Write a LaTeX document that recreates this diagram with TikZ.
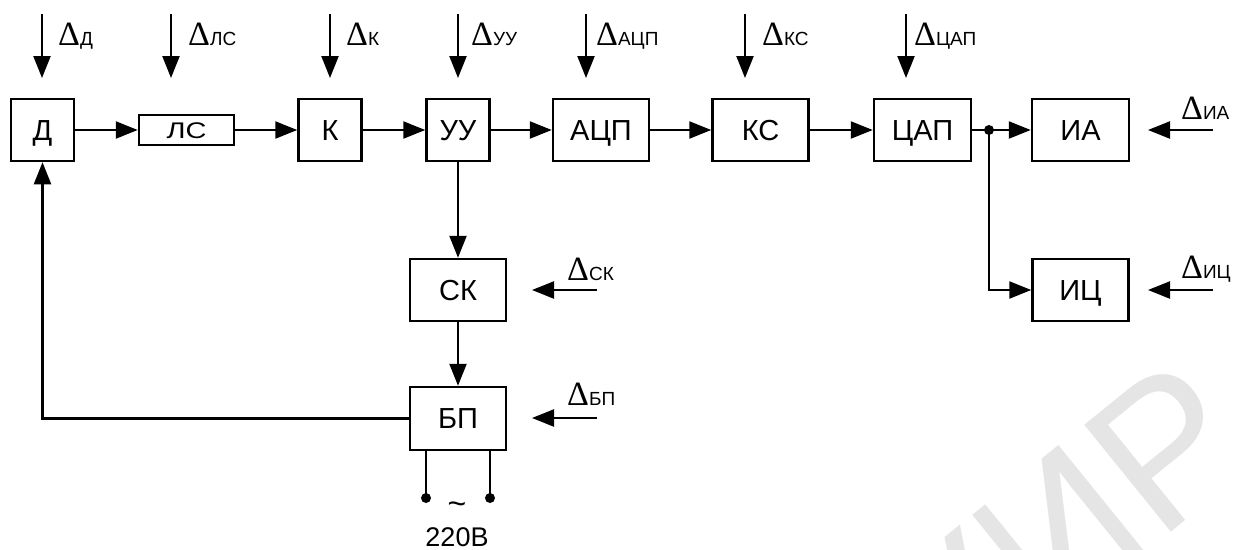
\documentclass[tikz,border=0pt]{standalone}
\usepackage{fontspec}
\setmainfont{Liberation Sans}
\newfontfamily\deltafont{Liberation Serif}
\usetikzlibrary{arrows.meta}

% error symbol with a subscript
\newcommand\dsub[1]{{\deltafont\fontsize{34}{34}\selectfont Δ}{\fontsize{19}{19}\selectfont #1}}

\begin{document}
\begin{tikzpicture}[x=1pt,y=-1pt,
  blk/.style={draw, line width=2.5pt, minimum width=#1, minimum height=62pt,
    inner sep=0pt, font=\fontsize{29}{29}\selectfont,
    text height=20.5pt, text depth=0pt},
  blk/.default=63pt,
  arr/.style={line width=2.3pt, -{Triangle[length=22pt,width=17pt]}},
  wire/.style={line width=2.3pt},
  lbl/.style={anchor=base west, inner sep=0pt},
  dot/.style={circle, fill, inner sep=0pt, minimum size=10pt}
]
\useasboundingbox (0,0) rectangle (1234,549);

% faint watermark in the lower right corner
\begin{scope}
  \clip (0,0) rectangle (1234,549);
  \node[anchor=base east, rotate=39, inner sep=0pt, text=gray!20,
        font=\fontsize{200}{200}\selectfont] (wm) at (1262,458) {БГУИР};
\end{scope}

% main chain of blocks
\node[blk] (D) at (42.5,130) {Д};
\node[blk=95pt, minimum height=30pt, text height=16pt] (LS) at (186.5,130) {\scalebox{1}[0.78]{ЛС}};
\node[blk] (K) at (330,130) {К};
\node[blk] (UU) at (458,130) {УУ};
\node[blk=96pt] (ADC) at (601,130) {АЦП};
\node[blk=96pt] (KS) at (760.5,130) {КС};
\node[blk=97pt] (DAC) at (922.5,130) {ЦАП};
\node[blk=97pt] (IA) at (1080.5,130) {ИА};
\node[blk=96pt] (SK) at (458,290) {СК};
\node[blk=96pt] (IC) at (1080.5,290) {ИЦ};
\node[blk=96pt, minimum height=63pt] (BP) at (458,418.5) {БП};

% signal path
\draw[arr] (D) -- (LS);
\draw[arr] (LS) -- (K);
\draw[arr] (K) -- (UU);
\draw[arr] (UU) -- (ADC);
\draw[arr] (ADC) -- (KS);
\draw[arr] (KS) -- (DAC);
\coordinate (j) at (989,130);
\draw[wire] (DAC.east) -- (j);
\draw[arr] (j) -- (IA.west);
\draw[arr] (j) |- (IC.west);
\node[dot] (jd) at (j) {};
\draw[arr] (UU) -- (SK);
\draw[arr] (SK) -- (BP);
\draw[arr] (BP.west) -| (D.south);

% mains input
\coordinate (p1) at (426,498);
\coordinate (p2) at (490,498);
\draw[wire] (p1 |- BP.south) -- (p1);
\draw[wire] (p2 |- BP.south) -- (p2);
\node[dot] (t1) at (p1) {};
\node[dot] (t2) at (p2) {};
\node[font=\fontsize{32}{32}\selectfont, inner sep=0pt] (tilde) at (457,508) {\~{}};
\node[font=\fontsize{27}{27}\selectfont, inner sep=0pt, anchor=base] (mains) at (457,546) {220В};

% error inputs from above
\foreach \n/\x in {D/42, LS/171, K/330, UU/458, ADC/586, KS/745, DAC/906} {
  \coordinate (s\n) at (\x,14);
  \coordinate (e\n) at (\x,78);
  \draw[arr] (s\n) -- (e\n);
}
\node[lbl] (lD) at (58,45) {\dsub{Д}};
\node[lbl] (lLS) at (188,45) {\dsub{ЛС}};
\node[lbl] (lK) at (346,45) {\dsub{К}};
\node[lbl] (lUU) at (471,45) {\dsub{УУ}};
\node[lbl] (lADC) at (596,45) {\dsub{АЦП}};
\node[lbl] (lKS) at (762,45) {\dsub{КС}};
\node[lbl] (lDAC) at (914,45) {\dsub{ЦАП}};

% error inputs from the right
\foreach \n/\x/\y in {IA/1213/130, IC/1213/290, SK/597/290, BP/597/418} {
  \coordinate (r\n) at (\x,\y);
  \coordinate (q\n) at (\x-65,\y);
  \draw[arr] (r\n) -- (q\n);
}
\node[lbl] (lIA) at (1181,119) {\dsub{ИА}};
\node[lbl] (lIC) at (1181,278) {\dsub{ИЦ}};
\node[lbl] (lSK) at (567,280) {\dsub{СК}};
\node[lbl] (lBP) at (567,405) {\dsub{БП}};
\end{tikzpicture}
\end{document}
